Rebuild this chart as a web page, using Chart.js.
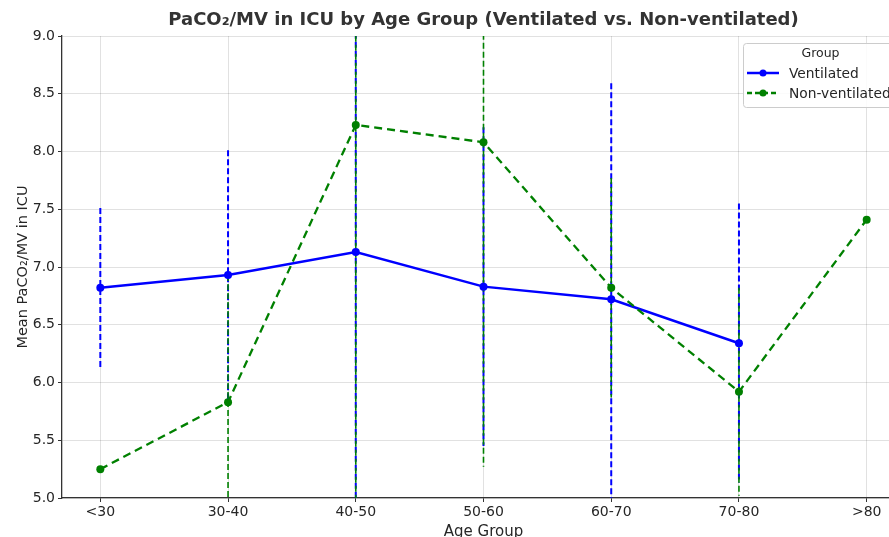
<!DOCTYPE html>
<html>
<head>
<meta charset="utf-8">
<script src="https://cdn.jsdelivr.net/npm/chart.js@4"></script>
<style>
  html, body { margin: 0; padding: 0; background: #fff; }
  #wrap { width: 889px; height: 537px; position: relative; overflow: hidden; }
  #inner { width: 936px; height: 537px; position: absolute; left: 0; top: 0; }
</style>
</head>
<body>
<div id="wrap"><div id="inner"><canvas id="chart"></canvas></div></div>
<script>
const ageGroups = ["<30", "30-40", "40-50", "50-60", "60-70", "70-80", ">80"];
const ventMeans = [6.82, 6.93, 7.13, 6.83, 6.72, 6.34, null];
const ventErr = [0.69, 1.08, 2.6, 1.38, 1.87, 1.21, null];
const nonVentMeans = [5.25, 5.83, 8.23, 8.08, 6.82, 5.92, 7.41];
const nonVentErr = [null, 1.1, 3.5, 2.81, 0.95, 0.9, null];
const yTicks = [5.0, 5.5, 6.0, 6.5, 7.0, 7.5, 8.0, 8.5, 9.0];

const chartTitle = "PaCO₂/MV in ICU by Age Group (Ventilated vs. Non-ventilated)";
const BLUE = "#0000ff";
const GREEN = "#008000";
const FONT = "'DejaVu Sans', sans-serif";

Chart.defaults.font.family = FONT;
Chart.defaults.color = "#262626";

const toPoints = (arr) =>
  arr.map((v, i) => ({ x: i, y: v })).filter((p) => p.y !== null);

// vertical dashed error bars, drawn under the lines
const errorBars = {
  id: "errorBars",
  beforeDatasetsDraw(chart) {
    const { ctx, chartArea, scales } = chart;
    const groups = [
      { means: ventMeans, errs: ventErr, color: BLUE, width: 2 },
      { means: nonVentMeans, errs: nonVentErr, color: GREEN, width: 1.6 },
    ];
    ctx.save();
    ctx.beginPath();
    ctx.rect(chartArea.left, chartArea.top, chartArea.width, chartArea.height);
    ctx.clip();
    ctx.setLineDash([6, 3]);
    groups.forEach((g) => {
      ctx.strokeStyle = g.color;
      ctx.lineWidth = g.width;
      g.means.forEach((m, i) => {
        if (m === null || g.errs[i] === null) return;
        const px = scales.x.getPixelForValue(i);
        ctx.beginPath();
        ctx.moveTo(px, scales.y.getPixelForValue(m + g.errs[i]));
        ctx.lineTo(px, scales.y.getPixelForValue(m - g.errs[i]));
        ctx.stroke();
      });
    });
    ctx.restore();
  },
};

// title centred over the plot area, like the axes title
const axesTitle = {
  id: "axesTitle",
  afterDraw(chart) {
    const { ctx, chartArea } = chart;
    ctx.save();
    ctx.font = "bold 18px " + FONT;
    ctx.fillStyle = "#333333";
    ctx.textAlign = "center";
    ctx.textBaseline = "middle";
    ctx.fillText(chartTitle, (chartArea.left + chartArea.right) / 2, 20);
    ctx.restore();
  },
};

// legend box inside the plot, upper right
const groupLegend = {
  id: "groupLegend",
  afterDraw(chart) {
    const { ctx, chartArea } = chart;
    const items = [
      { label: "Ventilated", color: BLUE, dash: [] },
      { label: "Non-ventilated", color: GREEN, dash: [5, 3] },
    ];
    const bx = chartArea.right - 162;
    const by = chartArea.top + 7;
    const bw = 155;
    const bh = 64;
    ctx.save();
    ctx.fillStyle = "rgba(255,255,255,0.85)";
    ctx.strokeStyle = "#cccccc";
    ctx.lineWidth = 1;
    ctx.beginPath();
    ctx.roundRect(bx + 0.5, by + 0.5, bw, bh, 3);
    ctx.fill();
    ctx.stroke();

    ctx.fillStyle = "#262626";
    ctx.textBaseline = "middle";
    ctx.textAlign = "center";
    ctx.font = "12.5px " + FONT;
    ctx.fillText("Group", bx + bw / 2, by + 11);

    ctx.textAlign = "left";
    ctx.font = "13.8px " + FONT;
    items.forEach((it, k) => {
      const yy = by + 30 + k * 20;
      ctx.strokeStyle = it.color;
      ctx.lineWidth = 2.5;
      ctx.setLineDash(it.dash);
      ctx.beginPath();
      ctx.moveTo(bx + 4, yy);
      ctx.lineTo(bx + 36, yy);
      ctx.stroke();
      ctx.setLineDash([]);
      ctx.fillStyle = it.color;
      ctx.beginPath();
      ctx.arc(bx + 20, yy, 3.5, 0, Math.PI * 2);
      ctx.fill();
      ctx.fillStyle = "#262626";
      ctx.fillText(it.label, bx + 46, yy + 1);
    });
    ctx.restore();
  },
};

const gridStyle = {
  color: "rgba(0,0,0,0.15)",
  borderDash: [3, 2],
  lineWidth: 0.8,
  tickColor: "#333333",
  tickLength: 4,
  tickWidth: 1,
};

new Chart(document.getElementById("chart").getContext("2d"), {
  type: "line",
  data: {
    datasets: [
      {
        label: "Ventilated",
        data: toPoints(ventMeans),
        borderColor: BLUE,
        backgroundColor: BLUE,
        borderWidth: 2.5,
        pointRadius: 4,
        pointBorderWidth: 0,
        tension: 0,
        order: 1,
      },
      {
        label: "Non-ventilated",
        data: toPoints(nonVentMeans),
        borderColor: GREEN,
        backgroundColor: GREEN,
        borderWidth: 2.3,
        borderDash: [8, 5],
        pointRadius: 4,
        pointBorderWidth: 0,
        tension: 0,
        order: 0,
      },
    ],
  },
  options: {
    responsive: true,
    maintainAspectRatio: false,
    animation: false,
    layout: { padding: { left: 0, right: 31, top: 36, bottom: 0 } },
    plugins: {
      legend: { display: false },
      tooltip: { enabled: false },
      title: { display: false },
    },
    scales: {
      x: {
        type: "linear",
        min: -0.3,
        max: 6.3,
        afterBuildTicks: (scale) => {
          scale.ticks = ageGroups.map((_, i) => ({ value: i }));
        },
        afterFit: (scale) => {
          scale.height = 39;
        },
        ticks: {
          padding: 2,
          autoSkip: false,
          maxRotation: 0,
          font: { size: 14 },
          color: "#262626",
          callback: (v) => ageGroups[v],
        },
        grid: gridStyle,
        border: { display: true, color: "#333333", width: 1.3 },
        title: {
          display: true,
          text: "Age Group",
          font: { size: 15 },
          color: "#262626",
          padding: { top: 0, bottom: -4 },
        },
      },
      y: {
        min: 5,
        max: 9,
        afterBuildTicks: (scale) => {
          scale.ticks = yTicks.map((v) => ({ value: v }));
        },
        afterFit: (scale) => {
          scale.width = 62;
        },
        ticks: {
          padding: 3,
          font: { size: 14 },
          color: "#262626",
          callback: (v) => v.toFixed(1),
        },
        grid: gridStyle,
        border: { display: true, color: "#333333", width: 1.3 },
        title: {
          display: true,
          text: "Mean PaCO₂/MV in ICU",
          font: { size: 14.5 },
          color: "#262626",
          padding: { top: 15, bottom: 0 },
        },
      },
    },
  },
  plugins: [errorBars, axesTitle, groupLegend],
});
</script>
</body>
</html>
